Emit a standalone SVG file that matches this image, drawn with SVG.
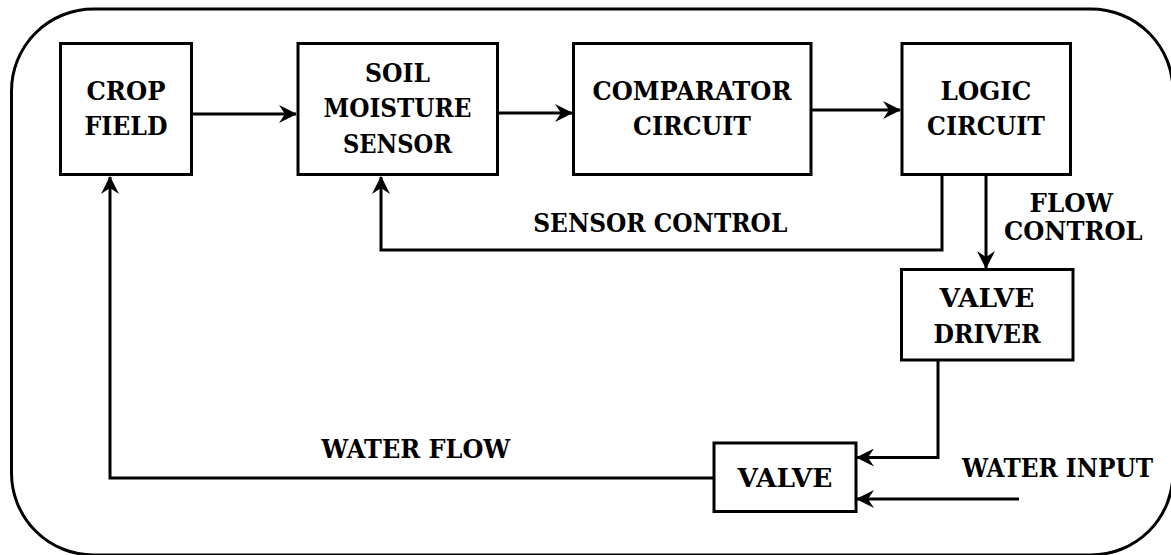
<svg xmlns="http://www.w3.org/2000/svg" width="1171" height="555" viewBox="0 0 1171 555">
<style>
  .box { fill: #ffffff; stroke: #000000; stroke-width: 3; }
  .outer { fill: none; stroke: #000000; stroke-width: 3; }
  .line { fill: none; stroke: #000000; stroke-width: 3; marker-end: url(#arrow); }
  text { font-family: "DejaVu Serif", "Liberation Serif", serif; font-weight: bold; font-size: 25.5px; fill: #000000; text-anchor: middle; }
</style>
<defs>
  <marker id="arrow" markerUnits="userSpaceOnUse" viewBox="0 0 18 18" refX="17" refY="9" markerWidth="18" markerHeight="18" orient="auto">
    <path d="M0,0 L18,9 L0,18 L6,9 z" fill="#000000"/>
  </marker>
</defs>
<rect class="outer" x="11.5" y="9" width="1161.5" height="546" rx="82" ry="82"/>
<g id="connectors">
  <path class="line" d="M191,114 H296"/>
  <path class="line" d="M497,113 H572"/>
  <path class="line" d="M811,110 H900"/>
  <path class="line" d="M942,174 V250 H381 V177"/>
  <path class="line" d="M986,174 V268"/>
  <path class="line" d="M938,360 V457.5 H857"/>
  <path class="line" d="M1019,499 H857"/>
  <path class="line" d="M714,478 H110 V177"/>
</g>
<g id="crop-field">
  <rect class="box" x="60.5" y="43.5" width="131" height="131"/>
  <text x="126" y="100" textLength="79" lengthAdjust="spacingAndGlyphs">CROP</text>
  <text x="126" y="135" textLength="83" lengthAdjust="spacingAndGlyphs">FIELD</text>
</g>
<g id="soil-moisture-sensor">
  <rect class="box" x="298" y="43.5" width="199.5" height="131"/>
  <text x="397.5" y="81.5" textLength="65" lengthAdjust="spacingAndGlyphs">SOIL</text>
  <text x="397.5" y="117" textLength="148" lengthAdjust="spacingAndGlyphs">MOISTURE</text>
  <text x="397.5" y="152.5" textLength="109" lengthAdjust="spacingAndGlyphs">SENSOR</text>
</g>
<g id="comparator-circuit">
  <rect class="box" x="573.5" y="43.5" width="237.5" height="131"/>
  <text x="692" y="100" textLength="199" lengthAdjust="spacingAndGlyphs">COMPARATOR</text>
  <text x="692" y="135" textLength="118" lengthAdjust="spacingAndGlyphs">CIRCUIT</text>
</g>
<g id="logic-circuit">
  <rect class="box" x="902" y="43.5" width="168.5" height="131"/>
  <text x="986" y="100" textLength="91" lengthAdjust="spacingAndGlyphs">LOGIC</text>
  <text x="986" y="135" textLength="118" lengthAdjust="spacingAndGlyphs">CIRCUIT</text>
</g>
<g id="valve-driver">
  <rect class="box" x="901.5" y="269.5" width="171.5" height="90.5"/>
  <text x="987" y="306.5" textLength="95" lengthAdjust="spacingAndGlyphs">VALVE</text>
  <text x="987" y="342.5" textLength="107" lengthAdjust="spacingAndGlyphs">DRIVER</text>
</g>
<g id="valve">
  <rect class="box" x="714" y="443" width="142" height="68.5"/>
  <text x="785" y="486.5" textLength="95" lengthAdjust="spacingAndGlyphs">VALVE</text>
</g>
<g id="labels">
  <text x="660.3" y="231.7" textLength="254" lengthAdjust="spacingAndGlyphs">SENSOR CONTROL</text>
  <text x="1071.3" y="211.7" textLength="83.4" lengthAdjust="spacingAndGlyphs">FLOW</text>
  <text x="1073.3" y="240" textLength="138.6" lengthAdjust="spacingAndGlyphs">CONTROL</text>
  <text x="415.8" y="458.3" textLength="189" lengthAdjust="spacingAndGlyphs">WATER FLOW</text>
  <text x="1057.5" y="476.7" textLength="191" lengthAdjust="spacingAndGlyphs">WATER INPUT</text>
</g>
</svg>
